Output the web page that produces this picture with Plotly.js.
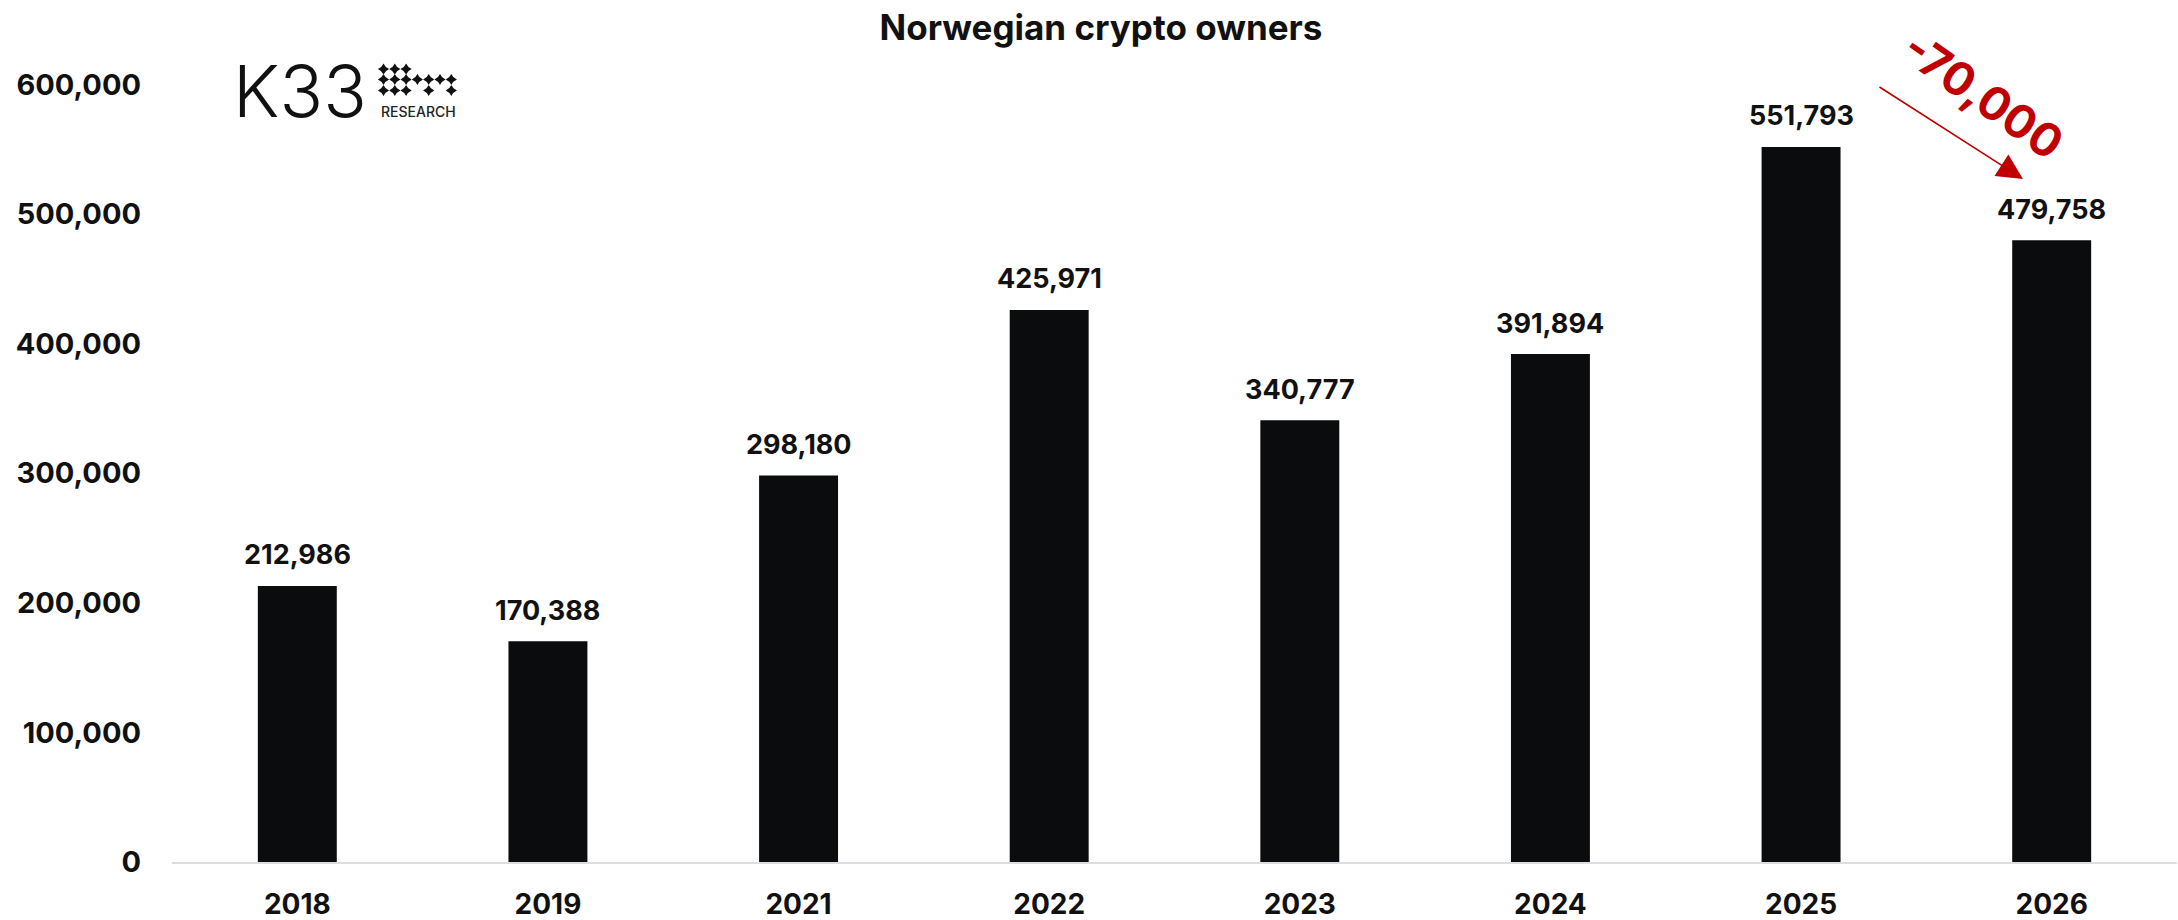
<!DOCTYPE html>
<html>
<head>
<meta charset="utf-8">
<script src="https://cdn.plot.ly/plotly-3.0.1.min.js"></script>
<style>html,body{margin:0;padding:0;background:#fff;}#chart{width:2178px;height:920px;}</style>
</head>
<body>
<div id="chart"></div>
<script>
// ---- data ----
const years = ['2018', '2019', '2021', '2022', '2023', '2024', '2025', '2026'];
const owners = [212986, 170388, 298180, 425971, 340777, 391894, 551793, 479758];
const yTickVals = [0, 100000, 200000, 300000, 400000, 500000, 600000];
const changeLabel = '-70,000';
const chartTitle = 'Norwegian crypto owners';

// ---- helpers ----
const fmt = v => v.toLocaleString('en-US');
const FONT = 'Inter, "Open Sans", sans-serif';
const INK = '#111111';
const W = 2178, H = 920, ML = 172, MR = 1, MT = 0, MB = 58;
const PW = W - ML - MR, PH = H - MT - MB;
const px2x = p => (p - ML) / PW;          // pixel x -> paper x
const px2y = p => (H - MB - p) / PH;       // pixel y -> paper y

// logo star grid (decorative)
const starCols = [383.5, 394.8, 406.1, 417.4, 428.7, 440, 451.3];
const starRows = [69, 79.5, 90.5];
const starPattern = [
  [1,1,1,0,0,0,0],
  [1,1,1,1,1,1,1],
  [1,1,1,0,1,0,1]
];
const r = 5.6, a = 0.3 * r;
const starPath = `M 0 ${r} Q ${a} ${a} ${r} 0 Q ${a} ${-a} 0 ${-r} Q ${-a} ${-a} ${-r} 0 Q ${-a} ${a} 0 ${r} Z`;
const shapes = [];
starPattern.forEach((row, ri) => row.forEach((on, ci) => {
  if (on) shapes.push({
    type: 'path', xref: 'paper', yref: 'paper',
    xsizemode: 'pixel', ysizemode: 'pixel',
    xanchor: px2x(starCols[ci]), yanchor: px2y(starRows[ri]),
    path: starPath, fillcolor: INK, line: { width: 0 }
  });
}));

const bars = {
  type: 'bar',
  x: years,
  y: owners,
  marker: { color: '#0b0c0e', line: { width: 0 } },
  hoverinfo: 'x+y'
};

const annotations = years.map((yr, i) => ({
  xref: 'x', yref: 'y', x: i, y: owners[i],
  text: fmt(owners[i]), showarrow: false,
  xanchor: 'center', yanchor: 'middle', yshift: 31,
  font: { family: FONT, size: 27, weight: 700, color: INK }
}));

annotations.push(
  { xref: 'paper', yref: 'paper', x: px2x(300), y: px2y(90), text: 'K33', showarrow: false,
    xanchor: 'center', yanchor: 'middle',
    font: { family: FONT, size: 72, weight: 300, color: INK } },
  { xref: 'paper', yref: 'paper', x: px2x(418), y: px2y(111), text: 'RESEARCH', showarrow: false,
    xanchor: 'center', yanchor: 'middle',
    font: { family: FONT, size: 14, weight: 500, color: '#222' } },
  { xref: 'paper', yref: 'paper', x: px2x(2023), y: px2y(179), ax: -145, ay: -93, text: '',
    showarrow: true, arrowhead: 2, arrowsize: 3.2, arrowwidth: 1.6, arrowcolor: '#c00000', standoff: 0 },
  { xref: 'paper', yref: 'paper', x: px2x(1983), y: px2y(95), text: changeLabel, showarrow: false, textangle: 35,
    xanchor: 'center', yanchor: 'middle',
    font: { family: FONT, size: 46, weight: 700, color: '#c00000' } }
);

const layout = {
  width: W, height: H,
  margin: { l: ML, r: MR, t: MT, b: MB },
  paper_bgcolor: '#ffffff', plot_bgcolor: '#ffffff',
  showlegend: false,
  bargap: 0.685,
  title: {
    text: chartTitle, x: 1101 / W, xref: 'container', xanchor: 'center',
    y: 1 - 28 / H, yref: 'container', yanchor: 'middle',
    font: { family: FONT, size: 35, weight: 700, color: INK }
  },
  xaxis: {
    type: 'category', range: [-0.5, years.length - 0.5], autorange: false,
    showgrid: false, zeroline: false,
    showline: true, linecolor: '#dadee3', linewidth: 2,
    ticks: '', ticklabelstandoff: 16,
    tickfont: { family: FONT, size: 28, weight: 700, color: INK }
  },
  yaxis: {
    range: [0, 665123], autorange: false, showgrid: false, zeroline: false, showline: false,
    tickvals: yTickVals, ticktext: yTickVals.map(fmt), ticks: '',
    ticklabelstandoff: 30,
    tickfont: { family: FONT, size: 29, weight: 700, color: INK }
  },
  shapes: shapes,
  annotations: annotations
};

Plotly.newPlot('chart', [bars], layout, { displayModeBar: false, staticPlot: true });
</script>
</body>
</html>
